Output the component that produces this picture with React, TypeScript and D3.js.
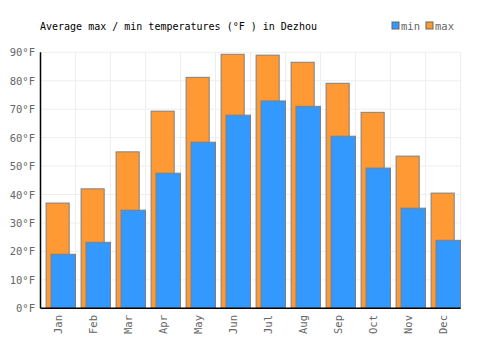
import React from "react";
import * as d3 from "d3";

const months = ["Jan", "Feb", "Mar", "Apr", "May", "Jun", "Jul", "Aug", "Sep", "Oct", "Nov", "Dec"];
const maxTemps = [37, 42, 55, 69.3, 81.2, 89.3, 89, 86.5, 79.1, 68.9, 53.5, 40.5];
const minTemps = [19, 23.2, 34.5, 47.5, 58.4, 67.9, 72.9, 71, 60.5, 49.3, 35.2, 23.9];
const yTicks = [0, 10, 20, 30, 40, 50, 60, 70, 80, 90];

const W = 500, H = 350;
const L = 40.5, R = 460.5, T = 52.3, B = 308.3;
const FONT = "'DejaVu Sans Mono', monospace";

export default function App() {
  const x = d3.scaleBand<string>().domain(months).range([L, R]);
  const y = d3.scaleLinear().domain([0, 90]).range([B, T]);
  const bw = x.bandwidth();
  return (
    <svg width={W} height={H} style={{ position: "absolute", left: 0, top: 0 }}>
      <rect width={W} height={H} fill="#fff" />
      {yTicks.map((t) => (
        <line key={"g" + t} x1={L} x2={R} y1={y(t)} y2={y(t)} stroke="#eee" strokeWidth={1} />
      ))}
      {months.map((m, i) => (
        <line key={"v" + m} x1={x(m)! + bw} x2={x(m)! + bw} y1={T} y2={B} stroke="#eee" strokeWidth={1} />
      ))}
      {months.map((m, i) => (
        <rect key={"mx" + m} x={x(m)! + bw * 0.16} width={bw * 0.66} y={y(maxTemps[i])} height={B - y(maxTemps[i])}
          fill="#ff9933" stroke="#808080" strokeWidth={1} />
      ))}
      {months.map((m, i) => (
        <rect key={"mn" + m} x={x(m)! + bw * 0.3} width={bw * 0.7} y={y(minTemps[i])} height={B - y(minTemps[i])}
          fill="#3399ff" stroke="#808080" strokeWidth={1} />
      ))}
      <line x1={L} x2={L} y1={T} y2={B} stroke="#000" strokeWidth={1.5} />
      <line x1={L} x2={R} y1={B} y2={B} stroke="#000" strokeWidth={1.5} />
      {yTicks.map((t) => (
        <text key={"yt" + t} x={35} y={y(t) + 4} textAnchor="end" fontFamily={FONT} fontSize={10.5} fill="#666">
          {t}°F
        </text>
      ))}
      {months.map((m) => (
        <text key={"xl" + m} transform={`translate(${x(m)! + bw / 2 + 3.5},315) rotate(-90)`} textAnchor="end"
          fontFamily={FONT} fontSize={10.5} fill="#666">
          {m}
        </text>
      ))}
      <text x={40} y={30} fontFamily={FONT} fontSize={10} fill="#000">
        Average max / min temperatures (°F ) in Dezhou
      </text>
      <rect x={392} y={22} width={7} height={7} fill="#3399ff" stroke="#666" strokeWidth={1} />
      <text x={401} y={30} fontFamily={FONT} fontSize={10.5} fill="#666">min</text>
      <rect x={426} y={22} width={7} height={7} fill="#ff9933" stroke="#666" strokeWidth={1} />
      <text x={435} y={30} fontFamily={FONT} fontSize={10.5} fill="#666">max</text>
    </svg>
  );
}
